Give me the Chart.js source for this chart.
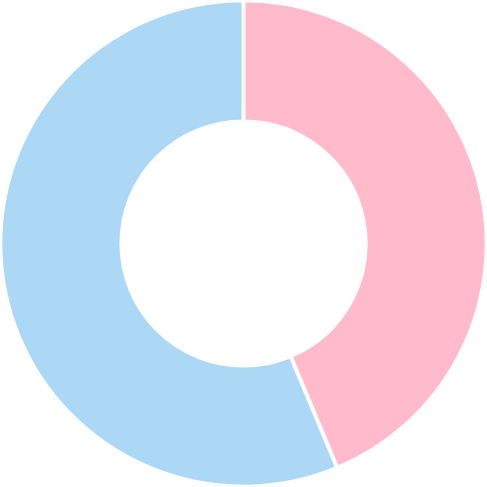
<!DOCTYPE html>
<html><head><meta charset="utf-8">
<script src="https://cdn.jsdelivr.net/npm/chart.js@4"></script>
<style>html,body{margin:0;padding:0;background:#fff}#w{width:487px;height:487px}</style>
</head><body><div id="w"><canvas id="c"></canvas></div>
<script>
const categories = ["A", "B"];
const values = [43.7, 56.3];
const colors = ["#FFBBCC", "#ADD8F5"];
new Chart(document.getElementById('c'), {
  type: 'doughnut',
  data: { labels: categories, datasets: [{ data: values, backgroundColor: colors, borderColor: '#fff', borderWidth: 2, borderAlign: 'inner' }] },
  options: { responsive: true, maintainAspectRatio: false, animation: false, cutout: '50%',
    plugins: { legend: { display: false }, tooltip: { enabled: false } } }
});
</script></body></html>
